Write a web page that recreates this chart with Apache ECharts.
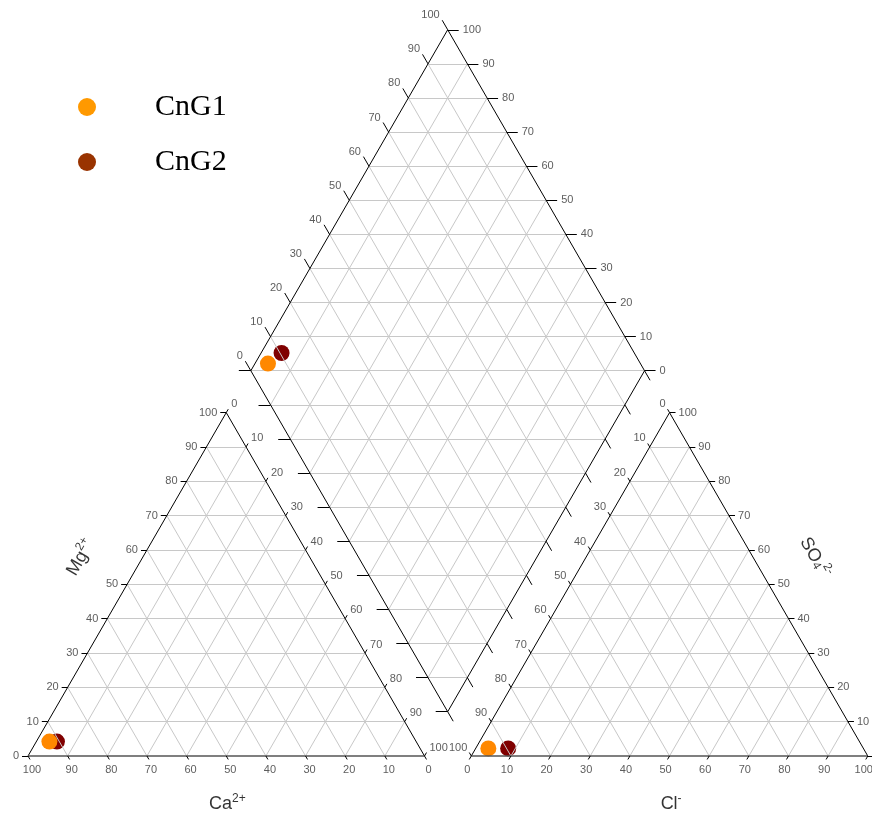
<!DOCTYPE html>
<html>
<head>
<meta charset="utf-8">
<title>Piper diagram</title>
<script src="https://cdn.jsdelivr.net/npm/echarts@6/dist/echarts.min.js"></script>
<style>
  html, body { margin: 0; padding: 0; background: #fff; }
  #chart { width: 872px; height: 814px; }
</style>
</head>
<body>
<div id="chart"></div>
<script>
// samples (percent of meq)
const samples = ["CnG1", "CnG2"];
const ca = [92.5, 90.6];
const mg = [4.2, 4.2];
const naK = [3.3, 5.2];
const hco3 = [94.6, 89.6];
const so4 = [2.2, 2.2];
const cl = [3.2, 8.2];

const tickValues = [0, 10, 20, 30, 40, 50, 60, 70, 80, 90, 100];
const pointColors = ["#ff8800", "#800000"];
const legendColors = ["#ff9900", "#993300"];

// layout (data units = percent of a triangle side)
const K = 3.965;          // px per unit
const H = Math.sqrt(3) / 2;
const RX = 111.8;         // x of right triangle left corner
const DB = [105.85, 11.17]; // diamond bottom vertex
const DS = 99.3;          // diamond side
const XMAX = 212;
const YMAX = 184;
const px = (n) => n / K;

const leftTri = (c, m, n) => [n + m / 2, m * H];
const rightTri = (h, s, c) => [RX + c + s / 2, s * H];
// a = (Ca+Mg)/100, b = (Cl+SO4)/100
const diamond = (a, b) => [DB[0] + DS * (b - a) / 2, DB[1] + DS * H * (a + b)];
const add = (p, d) => [p[0] + d[0], p[1] + d[1]];
const dir = (dx, dy, len) => [px(len) * dx, px(len) * dy];

// grid lines
const gridLines = [];
for (let i = 1; i <= 9; i++) {
  const t = i * 10;
  gridLines.push([leftTri(100 - t, t, 0), leftTri(0, t, 100 - t)]);
  gridLines.push([leftTri(100 - t, 0, t), leftTri(0, 100 - t, t)]);
  gridLines.push([leftTri(t, 0, 100 - t), leftTri(t, 100 - t, 0)]);
  gridLines.push([rightTri(100 - t, t, 0), rightTri(0, t, 100 - t)]);
  gridLines.push([rightTri(100 - t, 0, t), rightTri(0, 100 - t, t)]);
  gridLines.push([rightTri(t, 0, 100 - t), rightTri(t, 100 - t, 0)]);
  gridLines.push([diamond(t / 100, 0), diamond(t / 100, 1)]);
  gridLines.push([diamond(0, t / 100), diamond(1, t / 100)]);
}
for (let k = 1; k <= 19; k++) {
  const y = DB[1] + k * DS * H / 10;
  const w = (k <= 10 ? k : 20 - k) * DS / 20;
  gridLines.push([[DB[0] - w, y], [DB[0] + w, y]]);
}

// outlines
const edges = [
  [leftTri(100, 0, 0), leftTri(0, 100, 0)],
  [leftTri(0, 100, 0), leftTri(0, 0, 100)],
  [rightTri(0, 0, 100), rightTri(0, 100, 0)],
  [rightTri(0, 100, 0), rightTri(100, 0, 0)],
  [diamond(0, 0), diamond(1, 0)],
  [diamond(1, 0), diamond(1, 1)],
  [diamond(1, 1), diamond(0, 1)],
  [diamond(0, 1), diamond(0, 0)],
];
const bases = [
  [leftTri(100, 0, 0), leftTri(0, 0, 100)],
  [rightTri(100, 0, 0), rightTri(0, 0, 100)],
];

// ticks and tick labels
const ticks = [];
const tickLabels = [];
const lab = (p, off, text, align) => ({
  value: add(p, off),
  label: { formatter: text, align: align },
});
tickValues.forEach((t) => {
  const s = String(t);
  let p;
  // Mg, left edge
  p = leftTri(100 - t, t, 0);
  ticks.push([p, add(p, dir(-1, 0, 6))]);
  tickLabels.push(lab(p, [-px(9), 0], s, "right"));
  // Ca, base
  p = leftTri(t, 0, 100 - t);
  ticks.push([p, add(p, dir(0.5, -H, 4))]);
  tickLabels.push(lab(p, [px(4), -px(14)], s, "center"));
  // Na+K, right edge of left triangle
  p = leftTri(0, 100 - t, t);
  ticks.push([p, add(p, dir(0.5, H, 4))]);
  tickLabels.push(lab(p, [px(5), px(8.5)], s, "left"));
  // Cl, base
  p = rightTri(100 - t, 0, t);
  ticks.push([p, add(p, dir(-0.5, -H, 4))]);
  tickLabels.push(lab(p, [-px(4), -px(14)], s, "center"));
  // SO4, right edge
  p = rightTri(0, t, 100 - t);
  ticks.push([p, add(p, dir(1, 0, 6))]);
  tickLabels.push(lab(p, [px(9), 0], s, "left"));
  // HCO3, left edge of right triangle
  p = rightTri(t, 100 - t, 0);
  ticks.push([p, add(p, dir(-0.5, H, 4))]);
  tickLabels.push(lab(p, [-px(4), px(8.5)], s, "right"));
  // diamond upper-left
  p = diamond(1, t / 100);
  ticks.push([p, add(p, dir(-0.5, H, 11))]);
  tickLabels.push(lab(p, [-px(8), px(14.5)], s, "right"));
  // diamond upper-right
  p = diamond(t / 100, 1);
  ticks.push([p, add(p, dir(1, 0, 11))]);
  tickLabels.push(lab(p, [px(15), 0], s, "left"));
  // diamond lower-left
  p = diamond(t / 100, 0);
  ticks.push([p, add(p, dir(-1, 0, 12))]);
  // diamond lower-right
  p = diamond(0, t / 100);
  ticks.push([p, add(p, dir(0.5, -H, 11))]);
});

// axis titles
const titleText = (text, rotate) => ({ formatter: text, rotate: rotate || 0 });
const titles = [
  { value: [50.3, -px(47)], label: titleText("{a|Ca}{sup|2+}") },
  { value: [RX + 50.4, -px(47)], label: titleText("{a|Cl}{sup|-}") },
  { value: add([25, 50 * H], dir(-H, 0.5, 55)), label: titleText("{a|Mg}{sup|2+}", 60) },
  { value: add([RX + 75, 50 * H], dir(H, 0.5, 55)), label: titleText("{a|SO}{sub|4}{sup|2-}", -60) },
];

const samplePoints = (i) => [
  leftTri(ca[i], mg[i], naK[i]),
  rightTri(hco3[i], so4[i], cl[i]),
  diamond((ca[i] + mg[i]) / 100, (cl[i] + so4[i]) / 100),
];

const lineSeries = (data, color, width, z) => ({
  type: "lines",
  coordinateSystem: "cartesian2d",
  silent: true,
  clip: false,
  z: z,
  lineStyle: { color: color, width: width, opacity: 1 },
  data: data.map((c) => ({ coords: c })),
});

const plain = { textBorderWidth: 0, textBorderColor: "transparent", textShadowBlur: 0 };

const chart = echarts.init(document.getElementById("chart"));

const option = {
  animation: false,
  backgroundColor: "#fff",
  grid: {
    left: 28,
    top: 756 - YMAX * K,
    width: XMAX * K,
    height: YMAX * K,
  },
  xAxis: { type: "value", min: 0, max: XMAX, show: false },
  yAxis: { type: "value", min: 0, max: YMAX, show: false },
  legend: {
    orient: "vertical",
    left: 73,
    top: 87,
    itemWidth: 18,
    itemHeight: 18,
    itemGap: 25,
    icon: "circle",
    selectedMode: false,
    textStyle: {
      fontFamily: "Liberation Serif",
      fontSize: 30,
      color: "#000",
      padding: [0, 0, 0, 54],
    },
    data: samples.map((s, i) => ({ name: s, itemStyle: { color: legendColors[i] } })),
  },
  series: [
    {
      name: samples[1],
      type: "scatter",
      z: 1,
      clip: false,
      symbolSize: 16,
      itemStyle: { color: pointColors[1], opacity: 1 },
      data: samplePoints(1),
    },
    lineSeries(gridLines, "#c8c8c8", 1, 2),
    {
      name: samples[0],
      type: "scatter",
      z: 3,
      clip: false,
      symbolSize: 16,
      itemStyle: { color: pointColors[0], opacity: 1 },
      data: samplePoints(0),
    },
    lineSeries(edges, "#000", 1, 4),
    lineSeries(bases, "#555", 1.6, 4),
    lineSeries(ticks, "#000", 1, 4),
    {
      type: "scatter",
      silent: true,
      clip: false,
      z: 5,
      symbolSize: 0,
      itemStyle: { color: "#333" },
      label: Object.assign({
        show: true,
        position: "inside",
        verticalAlign: "middle",
        fontFamily: "Liberation Sans",
        fontSize: 11,
        color: "#333",
      }, plain),
      data: tickLabels,
    },
    {
      type: "scatter",
      silent: true,
      clip: false,
      z: 5,
      symbolSize: 0,
      itemStyle: { color: "#000" },
      label: Object.assign({
        show: true,
        position: "inside",
        align: "center",
        verticalAlign: "middle",
        fontFamily: "Liberation Sans",
        color: "#000",
        rich: {
          a: Object.assign({ fontSize: 18, lineHeight: 21, fontFamily: "Liberation Sans", color: "#000", verticalAlign: "bottom" }, plain),
          sup: Object.assign({ fontSize: 12, lineHeight: 21, fontFamily: "Liberation Sans", color: "#000", verticalAlign: "top" }, plain),
          sub: Object.assign({ fontSize: 12, lineHeight: 21, fontFamily: "Liberation Sans", color: "#000", verticalAlign: "bottom" }, plain),
        },
      }, plain),
      data: titles,
    },
  ],
};

chart.setOption(option);
</script>
</body>
</html>
